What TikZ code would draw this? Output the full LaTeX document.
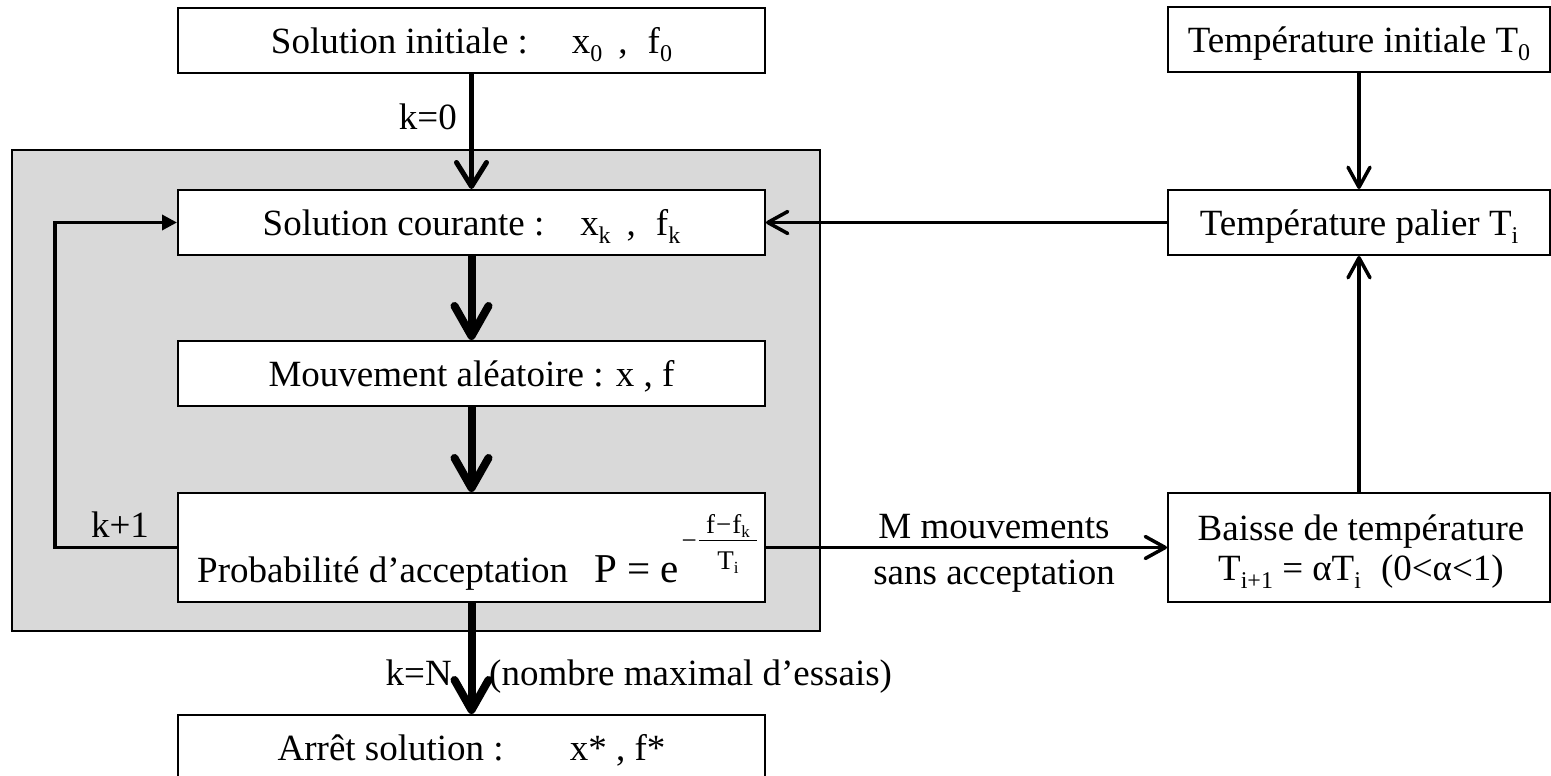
\documentclass[tikz,border=0pt]{standalone}
\usepackage{fontspec}
\setmainfont{Liberation Serif}
\usetikzlibrary{arrows.meta}
\definecolor{panelgray}{RGB}{217,217,217}
% subscripts for the 37pt text and for the small exponent
\newcommand{\sbs}[1]{\raisebox{-8pt}{\fontsize{24}{24}\selectfont #1}}
\newcommand{\sbx}[1]{\raisebox{-4pt}{\fontsize{17}{17}\selectfont #1}}
% exponent -(f - f_k)/T_i
\newcommand{\expfrac}{%
  \raisebox{33pt}{\fontsize{27}{27}\selectfont −}\hspace{2pt}%
  \makebox[58pt][c]{\raisebox{49pt}{\fontsize{27}{27}\selectfont f\hspace{1pt}−\hspace{1pt}f\sbx{k}}}%
  \hspace{-58pt}\rule[41pt]{58pt}{1.5pt}%
  \hspace{-58pt}\makebox[58pt][c]{\raisebox{13pt}{\fontsize{27}{27}\selectfont T\sbx{i}}}}
\begin{document}
\begin{tikzpicture}[x=1pt, y=-1pt,
  txt/.style={font=\fontsize{37}{40}\selectfont, inner sep=0pt},
  stagebox/.style={draw, line width=2pt, fill=white, inner sep=0pt,
    minimum height=65pt, text height=30pt, text depth=4pt,
    font=\fontsize{37}{40}\selectfont},
  leftbox/.style={stagebox, minimum width=587pt},
  rightbox/.style={stagebox, minimum width=382pt},
  panel/.style={draw, line width=2.5pt, fill=panelgray, inner sep=0pt,
    minimum width=808pt, minimum height=481pt},
  thinarrow/.style={line width=3.5pt, -{Straight Barb[length=20pt,width=22pt,round]}},
  midarrow/.style={line width=5pt, -{Straight Barb[length=24pt,width=30pt,round]}},
  heavyarrow/.style={line width=8pt, -{Straight Barb[length=30pt,width=34pt,round]}},
  looparrow/.style={line width=3.5pt, -{Triangle[length=15pt,width=15pt]}}
]
\useasboundingbox (0,0) rectangle (1551,776);
\clip (0,0) rectangle (1551,776);

% inner loop area
\node[panel] (loopzone) at (416,390.5) {};

% left column
\node[leftbox] (si) at (471.5,40.5)
  {Solution initiale :\hspace{44pt}x\sbs{0}\hspace{16pt},\hspace{20pt}f\sbs{0}};
\node[leftbox] (sc) at (471.5,222.5)
  {Solution courante :\hspace{36pt}x\sbs{k}\hspace{16pt},\hspace{20pt}f\sbs{k}};
\node[leftbox] (ma) at (471.5,373.5) {Mouvement aléatoire : x , f};
\node[leftbox, minimum height=109pt] (pa) at (471.5,547.5) {};
\node[txt, anchor=base west] (patext) at (197,582)
  {Probabilité d’acceptation\hspace{26pt}{\fontsize{41}{41}\selectfont P = e}\hspace{3pt}\expfrac};
\node[leftbox] (ar) at (471.5,747.5) {Arrêt solution :\hspace{66pt}x* , f*};

% right column
\node[rightbox] (t0) at (1359,40) {Température initiale T\sbs{0}};
\node[rightbox] (tp) at (1359,222.5) {Température palier T\sbs{i}};
\node[rightbox, minimum height=109pt] (bt) at (1359,547.5) {};
\node[txt, anchor=base] (bt1) at (1361,540) {Baisse de température};
\node[txt, anchor=base] (bt2) at (1361,580) {T\sbs{i+1} = αT\sbs{i}\hspace{20pt}(0<α<1)};

% connectors
\draw[midarrow] (si) -- (sc);
\draw[heavyarrow] (sc) -- (ma);
\draw[heavyarrow] (ma) -- (pa);
\draw[heavyarrow] (pa) -- (ar);
\draw[thinarrow] (t0) -- (tp);
\draw[thinarrow] (bt) -- (tp);
\draw[thinarrow] (tp) -- (sc);
\draw[thinarrow] (pa) -- (bt);
\coordinate (back) at (55,0);
\draw[looparrow] (pa.west) -- (pa.west -| back) |- (sc.west);

% connector labels
\node[txt, anchor=base east] (k0) at (457,129) {k=0};
\node[txt, anchor=base] (k1) at (120,537) {k+1};
\node[txt, anchor=base east] (kn) at (452,685) {k=N};
\node[txt, anchor=base west] (knote) at (489,685) {(nombre maximal d’essais)};
\node[txt, anchor=base] (mlab1) at (994,538) {M mouvements};
\node[txt, anchor=base] (mlab2) at (994,584) {sans acceptation};
\end{tikzpicture}
\end{document}
